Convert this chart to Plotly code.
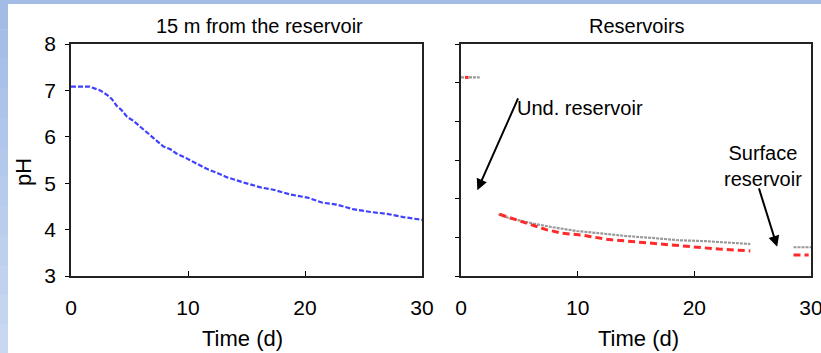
import plotly.graph_objects as go

W, H = 821, 353

# ---- data ----
t_15m = [0, 0.8, 1.6, 2.5, 3.1, 3.5, 3.9, 4.3, 4.8, 5.3, 5.9, 6.4, 6.9, 7.3, 7.9, 8.5, 9.0,
         9.7, 10.4, 11.0, 11.6, 12.5, 13.3, 14.7, 16.2, 17.3, 18.7, 20.2, 21.5, 22.7, 24.1,
         25.6, 27.0, 28.4, 30.0]
ph_15m = [7.08, 7.08, 7.08, 7.0, 6.9, 6.81, 6.67, 6.58, 6.43, 6.35, 6.22, 6.11, 6.0, 5.92, 5.79,
          5.73, 5.64, 5.56, 5.47, 5.38, 5.31, 5.22, 5.13, 5.02, 4.91, 4.86, 4.76, 4.69, 4.58,
          4.54, 4.44, 4.38, 4.34, 4.27, 4.21]

t_gray = [0, 1.6, None, 3.2, 4.2, 5.0, 6.2, 7.9, 9.9, 11.9, 14.2, 16.4, 18.7, 21.0, 23.2, 24.8,
          None, 28.5, 30.0]
ph_gray = [7.28, 7.28, None, 4.33, 4.24, 4.2, 4.13, 4.05, 3.97, 3.92, 3.86, 3.82, 3.77, 3.75,
           3.71, 3.69, None, 3.62, 3.62]

t_red = [0.35, 0.65, None, 3.3, 4.8, 5.9, 7.3, 8.7, 10.4, 12.5, 14.2, 15.6, 17.6, 19.8, 22.1,
         24.8, None, 28.5, 29.8]
ph_red = [7.28, 7.28, None, 4.33, 4.2, 4.12, 4.0, 3.92, 3.88, 3.79, 3.75, 3.73, 3.67, 3.62,
          3.58, 3.54, None, 3.45, 3.45]

x_ticks = [0, 10, 20, 30]
y_ticks = [3, 4, 5, 6, 7, 8]
y2_ticks = [3 + k * 5 / 6 for k in range(7)]

FONT = "Arial, Liberation Sans, sans-serif"


def px_x(p):
    return p / W


def px_y(p):
    return 1 - p / H


fig = go.Figure()
fig.add_trace(go.Scatter(x=t_15m, y=ph_15m, mode="lines", xaxis="x", yaxis="y",
                         line=dict(color="#4040ff", width=2.2, dash="5px,2px"),
                         showlegend=False))
fig.add_trace(go.Scatter(x=t_gray, y=ph_gray, mode="lines", xaxis="x2", yaxis="y2",
                         connectgaps=False,
                         line=dict(color="#9a9a9a", width=2.2, dash="3px,1px"),
                         showlegend=False))
fig.add_trace(go.Scatter(x=t_red, y=ph_red, mode="lines", xaxis="x2", yaxis="y2",
                         connectgaps=False,
                         line=dict(color="#ff2a2a", width=3, dash="7px,4px"),
                         showlegend=False))

ydom = [px_y(276), px_y(44)]
common_x = dict(range=[0, 30], tickvals=x_ticks, ticks="inside", ticklen=5, tickwidth=1,
                tickcolor="black", showline=True, linecolor="#222", linewidth=1.5,
                mirror=True, showgrid=False, zeroline=False, automargin=False,
                tickfont=dict(family=FONT, size=21, color="black"),
                ticklabelstandoff=12, ticklabeloverflow="allow")
fig.update_layout(
    width=W, height=H,
    margin=dict(l=0, r=0, t=0, b=0),
    paper_bgcolor="#b4c8ec",
    plot_bgcolor="rgba(0,0,0,0)",
    xaxis=dict(domain=[px_x(71), px_x(422)], anchor="y", **common_x),
    xaxis2=dict(domain=[px_x(461), px_x(811)], anchor="y2", **common_x),
    yaxis=dict(domain=ydom, anchor="x", range=[3, 8], tickvals=y_ticks, ticks="outside",
               ticklen=4, tickcolor="black", showline=True, linecolor="#222", linewidth=1.5,
               mirror=True, showgrid=False, zeroline=False, automargin=False,
               tickfont=dict(family=FONT, size=21, color="black"), ticklabelstandoff=5),
    yaxis2=dict(domain=ydom, anchor="x2", range=[3, 8], tickvals=y2_ticks, ticks="outside",
                ticklen=4, tickcolor="black", showticklabels=False, showline=True,
                linecolor="#222", linewidth=1.5, mirror=True, showgrid=False,
                zeroline=False, automargin=False),
)

# background: blue frame strip with a light gradient, white slide area
shapes = []
n = 12
for i in range(n):
    f = i / (n - 1)
    r = int(0xa3 + (0xc8 - 0xa3) * f)
    g = int(0xbc + (0xd8 - 0xbc) * f)
    b = int(0xe6 + (0xf2 - 0xe6) * f)
    shapes.append(dict(type="rect", xref="paper", yref="paper", layer="below",
                       x0=0, x1=1, y0=1 - (i + 1) / n, y1=1 - i / n,
                       fillcolor=f"rgb({r},{g},{b})", line=dict(width=0)))
shapes.append(dict(type="rect", xref="paper", yref="paper", layer="below",
                   x0=px_x(8), x1=1, y0=0, y1=px_y(4),
                   fillcolor="white", line=dict(width=0)))
fig.update_layout(shapes=shapes)

txt = dict(family=FONT, size=20, color="black")
txt_ax = dict(family=FONT, size=22, color="black")
ann = [
    dict(text="15 m from the reservoir", x=px_x(259), y=px_y(26), font=txt),
    dict(text="Reservoirs", x=px_x(637), y=px_y(26), font=txt),
    dict(text="Time (d)", x=px_x(242), y=px_y(338), font=txt_ax),
    dict(text="Time (d)", x=px_x(638), y=px_y(338), font=txt_ax),
    dict(text="pH", x=px_x(24), y=px_y(172), textangle=-90, font=txt_ax),
]
annotations = []
for a in ann:
    d = dict(xref="paper", yref="paper", showarrow=False,
             xanchor="center", yanchor="middle")
    d.update(a)
    annotations.append(d)

annotations.append(dict(text="Und. reservoir", xref="x2", yref="y2", x=4.6, y=6.62,
                        xanchor="left", yanchor="middle", showarrow=False, font=txt))
annotations.append(dict(text="Surface<br>reservoir", xref="x2", yref="y2", x=25.9, y=5.37,
                        xanchor="center", yanchor="middle", showarrow=False, font=txt))
annotations.append(dict(text="", xref="x2", yref="y2", x=1.4, y=4.85, axref="x2", ayref="y2",
                        ax=4.95, ay=6.86, showarrow=True, arrowhead=2, arrowsize=1.1,
                        arrowwidth=2, arrowcolor="black"))
annotations.append(dict(text="", xref="x2", yref="y2", x=27.1, y=3.63, axref="x2", ayref="y2",
                        ax=25.5, ay=4.92, showarrow=True, arrowhead=2, arrowsize=1.1,
                        arrowwidth=2, arrowcolor="black"))
fig.update_layout(annotations=annotations)

fig.write_html("out.html")
